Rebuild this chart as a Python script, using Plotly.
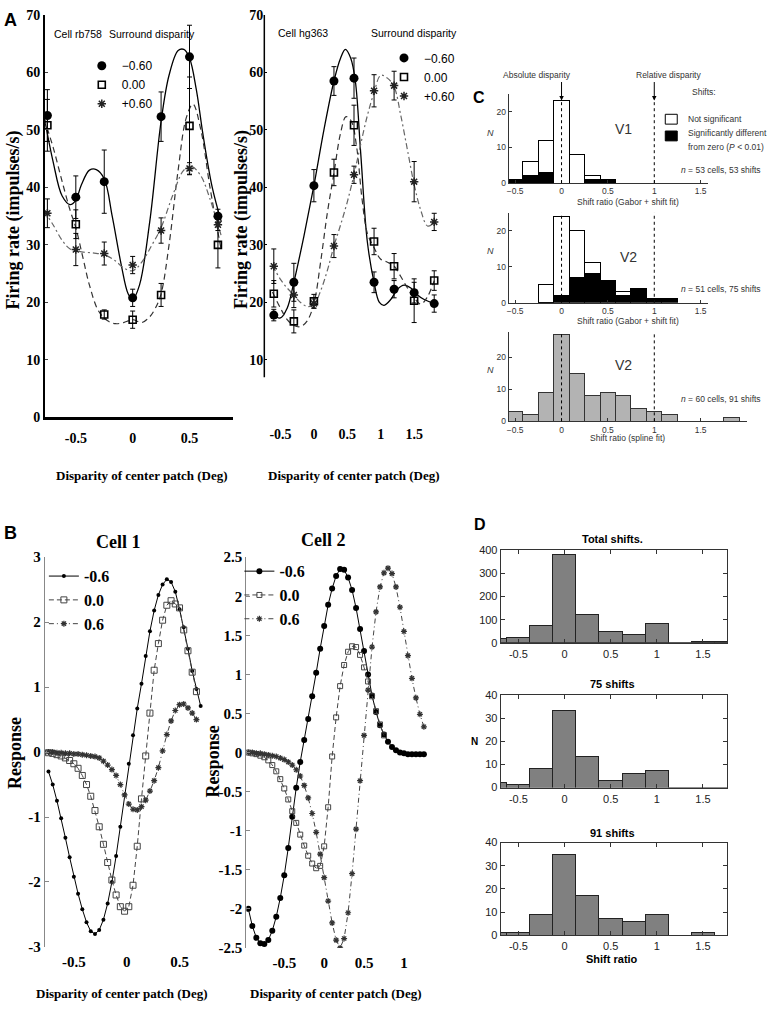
import plotly.graph_objects as go

W, H = 767, 1014
def fx(p): return p / W
def fy(p): return 1 - p / H

SERIF = "Liberation Serif, Times New Roman, serif"
SANS = "Liberation Sans, Arial, sans-serif"

# ---------------- DATA ----------------
# Panel A, left (Cell rb758)
A1_x = [-0.75, -0.5, -0.25, 0.0, 0.25, 0.5, 0.75]
A1_neg = [52.5, 38.3, 41.0, 20.8, 52.3, 62.7, 35.0]
A1_neg_err = [4.5, 3.7, 5.5, 1.5, 4.3, 5.5, 1.2]
A1_zero = [50.8, 33.6, 17.9, 17.0, 21.3, 50.7, 30.0]
A1_zero_err = [4.5, 2.5, 0.8, 1.5, 2.0, 8.5, 4.0]
A1_pos = [35.5, 29.2, 28.5, 26.5, 32.5, 43.3, 33.5]
A1_pos_err = [2.5, 2.8, 2.0, 1.5, 2.2, 1.0, 1.0]
A1_fit_neg_x = [-0.78, -0.7, -0.62, -0.55, -0.5, -0.45, -0.38, -0.32, -0.25, -0.18, -0.1, -0.04, 0.0, 0.06, 0.15, 0.25, 0.32, 0.4, 0.45, 0.5, 0.56, 0.62, 0.7, 0.78]
A1_fit_neg_y = [52.5, 44.5, 38.5, 37.0, 37.8, 40.5, 43.0, 43.1, 41.5, 35.0, 26.5, 21.5, 20.5, 23.0, 34.0, 51.5, 59.5, 63.8, 64.0, 62.5, 57.0, 49.0, 40.0, 34.0]
A1_fit_zero_x = [-0.78, -0.7, -0.62, -0.55, -0.5, -0.44, -0.38, -0.3, -0.22, -0.15, -0.08, 0.0, 0.08, 0.15, 0.2, 0.25, 0.32, 0.4, 0.47, 0.53, 0.6, 0.68, 0.78]
A1_fit_zero_y = [52.0, 47.0, 41.0, 36.0, 33.0, 28.0, 23.0, 18.5, 16.8, 16.3, 16.5, 17.0, 16.5, 17.5, 19.0, 21.5, 30.0, 43.0, 52.0, 54.5, 50.0, 40.0, 29.0]
A1_fit_pos_x = [-0.78, -0.7, -0.62, -0.55, -0.45, -0.35, -0.25, -0.15, -0.08, 0.0, 0.08, 0.17, 0.25, 0.35, 0.45, 0.52, 0.6, 0.68, 0.78]
A1_fit_pos_y = [36.0, 33.5, 30.8, 29.3, 28.8, 28.6, 28.3, 27.2, 26.0, 25.5, 27.0, 30.0, 33.0, 38.5, 43.0, 43.6, 42.0, 38.0, 31.5]

# Panel A, right (Cell hg363)
A2_x = [-0.6, -0.3, 0.0, 0.3, 0.6, 0.9, 1.2, 1.5, 1.8]
A2_neg = [17.8, 23.5, 40.3, 58.5, 59.0, 23.5, 22.3, 21.7, 19.8]
A2_neg_err = [1.0, 3.3, 2.8, 2.5, 3.5, 1.8, 1.5, 1.8, 1.5]
A2_zero = [21.5, 16.7, 20.2, 42.6, 50.8, 30.6, 26.3, 20.3, 23.8]
A2_zero_err = [2.3, 2.0, 1.2, 2.3, 3.5, 2.3, 2.2, 3.8, 1.7]
A2_pos = [26.3, 21.3, 19.8, 29.8, 42.2, 56.8, 57.7, 41.0, 34.0]
A2_pos_err = [3.0, 2.2, 0.8, 2.0, 1.5, 2.8, 2.5, 3.5, 1.5]
A2_fit_neg_x = [-0.62, -0.5, -0.4, -0.3, -0.15, 0.0, 0.15, 0.3, 0.4, 0.47, 0.55, 0.62, 0.7, 0.8, 0.9, 0.98, 1.05, 1.15, 1.25, 1.35, 1.45, 1.55, 1.65, 1.8]
A2_fit_neg_y = [17.8, 17.3, 19.0, 23.5, 31.5, 40.3, 50.0, 58.5, 62.5, 64.0, 62.5, 58.5, 46.0, 30.5, 23.5, 20.0, 19.5, 20.5, 22.3, 23.0, 22.5, 21.3, 20.5, 19.8]
A2_fit_zero_x = [-0.62, -0.5, -0.4, -0.3, -0.2, -0.1, 0.0, 0.1, 0.2, 0.3, 0.4, 0.48, 0.56, 0.64, 0.72, 0.8, 0.9, 1.0, 1.1, 1.2, 1.3, 1.4, 1.5, 1.6, 1.7, 1.8]
A2_fit_zero_y = [21.8, 19.0, 17.0, 16.0, 15.8, 16.8, 19.8, 27.0, 35.5, 42.5, 49.5, 52.3, 51.5, 47.0, 38.0, 32.0, 29.5, 27.5, 27.0, 26.3, 24.5, 22.5, 20.8, 19.7, 21.0, 23.8]
A2_fit_pos_x = [-0.62, -0.5, -0.4, -0.3, -0.2, -0.1, 0.0, 0.1, 0.2, 0.3, 0.4, 0.5, 0.6, 0.7, 0.8, 0.9, 1.0, 1.1, 1.2, 1.3, 1.4, 1.5, 1.6, 1.7, 1.8]
A2_fit_pos_y = [26.5, 24.0, 22.5, 21.3, 20.0, 19.3, 19.6, 22.0, 25.5, 29.8, 33.5, 37.5, 42.2, 47.5, 52.5, 56.5, 59.5, 59.0, 57.5, 52.5, 46.5, 40.5, 36.0, 33.3, 33.8]

# Panel B, Cell 1
B1_x = [-0.74, -0.70, -0.66, -0.62, -0.58, -0.54, -0.50, -0.46, -0.42, -0.38, -0.34, -0.30, -0.26,
        -0.22, -0.18, -0.14, -0.10, -0.06, -0.02, 0.02, 0.06, 0.10, 0.14, 0.18, 0.22, 0.26, 0.30,
        0.34, 0.38, 0.42, 0.46, 0.50, 0.54, 0.58, 0.62, 0.66, 0.70]
B1_neg = [-0.30, -0.50, -0.75, -1.02, -1.32, -1.62, -1.92, -2.18, -2.42, -2.62, -2.76, -2.80, -2.74,
          -2.58, -2.33, -2.00, -1.60, -1.15, -0.66, -0.18, 0.26, 0.67, 1.05, 1.48, 1.86, 2.18, 2.42,
          2.58, 2.66, 2.62, 2.47, 2.20, 1.92, 1.59, 1.25, 0.97, 0.71]
B1_zero = [-0.01, -0.02, -0.04, -0.06, -0.09, -0.13, -0.18, -0.25, -0.36, -0.50, -0.68, -0.90, -1.15,
           -1.42, -1.70, -1.97, -2.20, -2.38, -2.45, -2.38, -2.05, -1.45, -0.72, -0.06, 0.60, 1.26, 1.67,
           2.03, 2.26, 2.33, 2.28, 2.22, 1.88, 1.56, 1.23, 0.93, None]
B1_pos = [0.00, 0.00, -0.01, -0.01, -0.02, -0.02, -0.03, -0.03, -0.04, -0.05, -0.06, -0.07, -0.09,
          -0.14, -0.20, -0.27, -0.36, -0.50, -0.66, -0.80, -0.88, -0.89, -0.84, -0.74, -0.60, -0.44, -0.24,
          0.02, 0.27, 0.48, 0.64, 0.73, 0.74, 0.68, 0.60, 0.50, None]

# Panel B, Cell 2
B2_x = [-0.95, -0.90, -0.85, -0.80, -0.75, -0.70, -0.65, -0.60, -0.55, -0.50, -0.45, -0.40, -0.35,
        -0.30, -0.25, -0.20, -0.15, -0.10, -0.05, 0.00, 0.05, 0.10, 0.15, 0.20, 0.25, 0.30, 0.35,
        0.40, 0.45, 0.50, 0.55, 0.60, 0.65, 0.70, 0.75, 0.80, 0.85, 0.90, 0.95, 1.00, 1.05, 1.10,
        1.15, 1.20, 1.25]
B2_neg = [-2.00, -2.22, -2.37, -2.44, -2.45, -2.40, -2.28, -2.10, -1.86, -1.57, -1.22, -0.82, -0.45,
          -0.12, 0.16, 0.43, 0.72, 1.02, 1.33, 1.62, 1.89, 2.10, 2.26, 2.35, 2.34, 2.24, 2.08,
          1.85, 1.58, 1.30, 1.00, 0.73, 0.52, 0.35, 0.23, 0.14, 0.07, 0.03, 0.00, -0.01, -0.02, -0.02,
          -0.02, -0.02, -0.02]
B2_zero = [0.00, -0.01, -0.02, -0.04, -0.06, -0.10, -0.16, -0.24, -0.34, -0.46, -0.60, -0.75, -0.90,
           -1.05, -1.19, -1.32, -1.42, -1.48, -1.45, -1.20, -0.70, -0.05, 0.45, 0.85, 1.12, 1.29, 1.36,
           1.35, 1.25, 1.09, 0.91, 0.72, 0.53, 0.36, 0.22, None, None, None, None, None, None, None,
           None, None, None]
B2_pos = [0.00, 0.00, -0.01, -0.01, -0.02, -0.03, -0.04, -0.05, -0.07, -0.09, -0.12, -0.16, -0.22,
          -0.30, -0.42, -0.58, -0.78, -1.02, -1.30, -1.60, -1.90, -2.18, -2.40, -2.50, -2.38, -2.05, -1.55,
          -0.98, -0.36, 0.22, 0.80, 1.35, 1.80, 2.12, 2.30, 2.36, 2.29, 2.12, 1.86, 1.55, 1.24, 0.95,
          0.70, 0.49, 0.33]

# Panel C histograms (bin centres in shift-ratio units, bin width 1/6)
C_V1_bins = [-0.5, -0.3333, -0.1667, 0.0, 0.1667, 0.3333, 0.5]
C_V1_sig = [1, 2, 3, 0, 0, 1, 1]
C_V1_ns = [0, 4, 9, 23, 8, 1, 0]
C_V2g_bins = [-0.1667, 0.0, 0.1667, 0.3333, 0.5, 0.6667, 0.8333, 1.0, 1.1667]
C_V2g_sig = [0, 2, 7, 8, 6, 2, 4, 1, 1]
C_V2g_ns = [5, 22, 13, 3, 0, 1, 0, 0, 0]
C_V2s_bins = [-0.5, -0.3333, -0.1667, 0.0, 0.1667, 0.3333, 0.5, 0.6667, 0.8333, 1.0, 1.1667, 1.3333, 1.5, 1.6667, 1.8333]
C_V2s = [3, 2, 9, 27, 15, 8, 9, 8, 4, 3, 2, 0, 0, 0, 1]
C_BIN_W = 1 / 6

# Panel D histograms (bin width 0.25)
D_bins = [-0.75, -0.5, -0.25, 0.0, 0.25, 0.5, 0.75, 1.0, 1.25, 1.5, 1.75]
D_total = [15, 18, 71, 378, 120, 47, 33, 82, 0, 3, 2]
D_75 = [2, 1, 8, 33, 13, 3, 6, 7, 0, 0, 0]
D_91 = [1, 1, 9, 35, 17, 7, 6, 9, 0, 1, 0]
D_BIN_W = 0.25

# ---------------- FIGURE ----------------
fig = go.Figure()

def err(a):
    return dict(type='data', array=a, visible=True, color='black', thickness=1, width=2.5)

DASH_A = "6px,4px"
DASHDOT_A = "6px,3px,2px,3px"

def panel_A(xa, ya, leg, px_, neg, nege, zero, zeroe, pos, pose, fnx, fny, fzx, fzy, fpx, fpy):
    fig.add_trace(go.Scatter(x=fnx, y=fny, mode='lines', line=dict(color='black', width=1.3, shape='spline'),
                             showlegend=False, xaxis=xa, yaxis=ya, hoverinfo='skip'))
    fig.add_trace(go.Scatter(x=fzx, y=fzy, mode='lines', line=dict(color='#333', width=1.2, dash=DASH_A, shape='spline'),
                             showlegend=False, xaxis=xa, yaxis=ya, hoverinfo='skip'))
    fig.add_trace(go.Scatter(x=fpx, y=fpy, mode='lines', line=dict(color='#666', width=1.2, dash=DASHDOT_A, shape='spline'),
                             showlegend=False, xaxis=xa, yaxis=ya, hoverinfo='skip'))
    fig.add_trace(go.Scatter(x=px_, y=neg, mode='markers', name='\u22120.60', error_y=err(nege),
                             marker=dict(symbol='circle', size=9, color='black'), legend=leg, xaxis=xa, yaxis=ya))
    fig.add_trace(go.Scatter(x=px_, y=zero, mode='markers', name='0.00', error_y=err(zeroe),
                             marker=dict(symbol='square-open', size=7, color='black', line=dict(width=1.6)),
                             legend=leg, xaxis=xa, yaxis=ya))
    fig.add_trace(go.Scatter(x=px_, y=pos, mode='markers', name='+0.60', error_y=err(pose),
                             marker=dict(symbol='asterisk-open', size=7, color='#222', line=dict(width=1.5)),
                             legend=leg, xaxis=xa, yaxis=ya))

panel_A('x', 'y', 'legend', A1_x, A1_neg, A1_neg_err, A1_zero, A1_zero_err, A1_pos, A1_pos_err,
        A1_fit_neg_x, A1_fit_neg_y, A1_fit_zero_x, A1_fit_zero_y, A1_fit_pos_x, A1_fit_pos_y)
panel_A('x2', 'y2', 'legend2', A2_x, A2_neg, A2_neg_err, A2_zero, A2_zero_err, A2_pos, A2_pos_err,
        A2_fit_neg_x, A2_fit_neg_y, A2_fit_zero_x, A2_fit_zero_y, A2_fit_pos_x, A2_fit_pos_y)

def panel_B(xa, ya, leg, bx, neg, zero, pos, big):
    fig.add_trace(go.Scatter(x=bx, y=neg, mode='lines+markers', name='-0.6',
                             line=dict(color='black', width=1),
                             marker=dict(symbol='circle', size=6 if big else 4, color='black'),
                             legend=leg, xaxis=xa, yaxis=ya))
    fig.add_trace(go.Scatter(x=bx, y=zero, mode='lines+markers', name='0.0',
                             line=dict(color='#444', width=1, dash='5px,3px'),
                             marker=dict(symbol='square-open', size=5 if big else 6, color='#444', line=dict(width=1)),
                             legend=leg, xaxis=xa, yaxis=ya))
    fig.add_trace(go.Scatter(x=bx, y=pos, mode='lines+markers', name='0.6',
                             line=dict(color='#444', width=1, dash='5px,3px,1px,3px'),
                             marker=dict(symbol='asterisk-open', size=5, color='#333', line=dict(width=1.2)),
                             legend=leg, xaxis=xa, yaxis=ya))

panel_B('x3', 'y3', 'legend3', B1_x, B1_neg, B1_zero, B1_pos, False)
panel_B('x4', 'y4', 'legend4', B2_x, B2_neg, B2_zero, B2_pos, True)

# Panel C
fig.add_trace(go.Bar(x=C_V1_bins, y=C_V1_sig, width=C_BIN_W, showlegend=False, name='Significant',
                     marker=dict(color='black', line=dict(color='black', width=1)), xaxis='x5', yaxis='y5'))
fig.add_trace(go.Bar(x=C_V1_bins, y=C_V1_ns, width=C_BIN_W, showlegend=False, name='Not significant',
                     marker=dict(color='white', line=dict(color='black', width=1)), xaxis='x5', yaxis='y5'))
fig.add_trace(go.Bar(x=C_V2g_bins, y=C_V2g_sig, width=C_BIN_W, showlegend=False,
                     marker=dict(color='black', line=dict(color='black', width=1)), xaxis='x6', yaxis='y6'))
fig.add_trace(go.Bar(x=C_V2g_bins, y=C_V2g_ns, width=C_BIN_W, showlegend=False,
                     marker=dict(color='white', line=dict(color='black', width=1)), xaxis='x6', yaxis='y6'))
fig.add_trace(go.Bar(x=C_V2s_bins, y=C_V2s, width=C_BIN_W, showlegend=False,
                     marker=dict(color='#b3b3b3', line=dict(color='#333', width=1)), xaxis='x7', yaxis='y7'))

# Panel D
for ya, vals in (('y8', D_total), ('y9', D_75), ('y10', D_91)):
    fig.add_trace(go.Bar(x=D_bins, y=vals, width=D_BIN_W, showlegend=False,
                         marker=dict(color='#808080', line=dict(color='#222', width=1)),
                         xaxis='x' + ya[1:], yaxis=ya))

# ---------------- AXES ----------------
def dom_x(a, b): return [fx(a), fx(b)]
def dom_y(top, bot): return [fy(bot), fy(top)]

serif_tick = dict(family=SERIF, size=14, color='black', weight='bold')
serif_tick_b = dict(family=SERIF, size=15, color='black', weight='bold')
c_tick = dict(family=SANS, size=8.5, color='#333')
d_tick = dict(family=SANS, size=11, color='#222')

lay = dict(
    width=W, height=H, margin=dict(l=0, r=0, t=0, b=0), autosize=False,
    paper_bgcolor='white', plot_bgcolor='white', barmode='stack', bargap=0,
    showlegend=True,
)

# A left
lay['xaxis'] = dict(domain=dom_x(43, 232), range=[-0.772, 0.886], anchor='y', showline=True, linewidth=3,
                    linecolor='black', tickvals=[-0.5, 0, 0.5], ticktext=['-0.5', '0', '0.5'], ticks='',
                    tickfont=serif_tick, showgrid=False, zeroline=False, ticklabelstandoff=6)
lay['yaxis'] = dict(domain=dom_y(7, 416), range=[0, 70], anchor='x', showline=True, linewidth=1.5,
                    linecolor='black', tickvals=[0, 10, 20, 30, 40, 50, 60, 70], ticks='inside', ticklen=3,
                    tickfont=serif_tick, showgrid=False, zeroline=False)
# A right
lay['xaxis2'] = dict(domain=dom_x(263, 447), range=[-0.742, 2.004], anchor='y2', showline=False,
                     tickvals=[-0.5, 0, 0.5, 1, 1.5], ticktext=['-0.5', '0', '0.5', '1', '1.5'], ticks='',
                     tickfont=serif_tick, showgrid=False, zeroline=False, ticklabelstandoff=7)
lay['yaxis2'] = dict(domain=dom_y(7, 416), range=[0, 70], anchor='x2', showline=False,
                     tickvals=[10, 20, 30, 40, 50, 60, 70], ticks='inside', ticklen=3, tickcolor='black',
                     tickfont=serif_tick, showgrid=False, zeroline=False)
# B left
lay['xaxis3'] = dict(domain=dom_x(43, 205), range=[-0.774, 0.755], anchor='y3', showline=False,
                     tickvals=[-0.5, 0, 0.5], ticktext=['-0.5', '0', '0.5'], ticks='',
                     tickfont=serif_tick_b, showgrid=False, zeroline=False, ticklabelstandoff=4)
lay['yaxis3'] = dict(domain=dom_y(558, 954), range=[-3, 3], anchor='x3', showline=True, linewidth=1.2,
                     linecolor='#888', tickvals=[-3, -2, -1, 0, 1, 2, 3],
                     ticktext=['-3', '-2', '-1', '0', '1', '2', '3'], ticks='inside', ticklen=4, tickcolor='#888',
                     tickfont=serif_tick_b, showgrid=False, zeroline=False)
# B right
lay['xaxis4'] = dict(domain=dom_x(245, 427), range=[-0.975, 1.3], anchor='y4', showline=False,
                     tickvals=[-0.5, 0, 0.5, 1], ticktext=['-0.5', '0', '0.5', '1'], ticks='',
                     tickfont=serif_tick_b, showgrid=False, zeroline=False, ticklabelstandoff=4)
lay['yaxis4'] = dict(domain=dom_y(558, 955), range=[-2.5, 2.5], anchor='x4', showline=True, linewidth=1.2,
                     linecolor='#888', tickvals=[-2.5, -2, -1.5, -1, -0.5, 0, 0.5, 1, 1.5, 2, 2.5],
                     ticktext=['-2.5', '-2', '-1.5', '-1', '-0.5', '0', '0.5', '1', '1.5', '2', '2.5'],
                     ticks='inside', ticklen=4, tickcolor='#888',
                     tickfont=serif_tick_b, showgrid=False, zeroline=False)

def c_axes(n, ytop, ybot, xmax, ymax):
    lay['xaxis%d' % n] = dict(domain=dom_x(508, 708 if xmax < 1.9 else 747), range=[-0.570, xmax],
                              anchor='y%d' % n, showline=True, linewidth=1, linecolor='#333',
                              tickvals=[-0.5, 0, 0.5, 1, 1.5], ticktext=['\u22120.5', '0', '0.5', '1', '1.5'],
                              ticks='inside', ticklen=3, tickcolor='#333', tickfont=c_tick,
                              showgrid=False, zeroline=False, ticklabelstandoff=0)
    lay['yaxis%d' % n] = dict(domain=dom_y(ytop, ybot), range=[0, ymax], anchor='x%d' % n, showline=True,
                              linewidth=1, linecolor='#333', tickvals=[0, 10, 20], ticks='inside', ticklen=3,
                              tickcolor='#333', tickfont=c_tick, showgrid=False, zeroline=False)

c_axes(5, 87, 178, 1.581, 25)
c_axes(6, 208, 299.5, 1.581, 25)
c_axes(7, 329, 420, 2.0, 28)

def d_axes(n, ytop, ybot, ymax, yt):
    lay['xaxis%d' % n] = dict(domain=dom_x(500, 727), range=[-0.692, 1.762], anchor='y%d' % n, showline=True,
                              mirror='ticks', linewidth=1, linecolor='#333',
                              tickvals=[-0.5, 0, 0.5, 1, 1.5], ticktext=['-0.5', '0', '0.5', '1', '1.5'],
                              ticks='inside', ticklen=4, tickcolor='#333', tickfont=d_tick,
                              showgrid=False, zeroline=False, ticklabelstandoff=1)
    lay['yaxis%d' % n] = dict(domain=dom_y(ytop, ybot), range=[0, ymax], anchor='x%d' % n, showline=True,
                              mirror='ticks', linewidth=1, linecolor='#333', tickvals=yt, ticks='inside',
                              ticklen=4, tickcolor='#333', tickfont=d_tick, showgrid=False, zeroline=False)

d_axes(8, 551, 645, 400, [0, 100, 200, 300, 400])
d_axes(9, 698, 792, 40, [0, 10, 20, 30, 40])
d_axes(10, 848, 942, 40, [0, 10, 20, 30, 40])

# ---------------- LEGENDS ----------------
lay['legend'] = dict(x=fx(80), y=fy(44), xanchor='left', yanchor='top', bgcolor='rgba(0,0,0,0)',
                     font=dict(family=SANS, size=12, color='black'), itemwidth=30, tracegroupgap=0,
                     traceorder='normal')
lay['legend2'] = dict(x=fx(383), y=fy(36), xanchor='left', yanchor='top', bgcolor='rgba(0,0,0,0)',
                      font=dict(family=SANS, size=12, color='black'), itemwidth=30, tracegroupgap=0,
                      traceorder='normal')
lay['legend3'] = dict(x=fx(42), y=fy(560), xanchor='left', yanchor='top', bgcolor='rgba(0,0,0,0)',
                      font=dict(family=SERIF, size=16, color='black', weight='bold'), itemwidth=30,
                      tracegroupgap=0, traceorder='normal')
lay['legend4'] = dict(x=fx(238), y=fy(555), xanchor='left', yanchor='top', bgcolor='rgba(0,0,0,0)',
                      font=dict(family=SERIF, size=16, color='black', weight='bold'), itemwidth=30,
                      tracegroupgap=0, traceorder='normal')

# ---------------- ANNOTATIONS ----------------
def ann(text, x, y, size, family, color='black', bold=False, italic=False, xanchor='center', angle=0):
    return dict(text=text, x=fx(x), y=fy(y), xref='paper', yref='paper', showarrow=False,
                font=dict(size=size, family=family, color=color, weight='bold' if bold else 'normal',
                          style='italic' if italic else 'normal'),
                xanchor=xanchor, yanchor='middle', textangle=angle)

anns = [
    ann('A', 9, 12, 18, SANS, bold=True), ann('B', 9, 533, 18, SANS, bold=True),
    ann('C', 478, 91, 16, SANS, bold=True), ann('D', 479, 525, 16, SANS, bold=True),
    ann('Cell rb758', 50, 26, 10.5, SANS, xanchor='left'),
    ann('Surround disparity', 105, 26, 10.5, SANS, xanchor='left'),
    ann('Cell hg363', 275, 25, 10.5, SANS, xanchor='left'),
    ann('Surround disparity', 458, 25, 10.5, SANS, xanchor='right'),
    ann('Firing rate (impulses/s)', 12, 215, 18, SERIF, bold=True, angle=-90),
    ann('Firing rate (impulses/s)', 240, 215, 18, SERIF, bold=True, angle=-90),
    ann('Disparity of center patch (Deg)', 140, 475, 13, SERIF, bold=True),
    ann('Disparity of center patch (Deg)', 353, 475, 13, SERIF, bold=True),
    ann('Cell 1', 117, 543, 18, SERIF, bold=True), ann('Cell 2', 322, 541, 18, SERIF, bold=True),
    ann('Response', 13, 757, 18, SERIF, bold=True, angle=-90),
    ann('Response', 211, 765, 18, SERIF, bold=True, angle=-90),
    ann('Disparity of center patch (Deg)', 120, 1001, 13, SERIF, bold=True),
    ann('Disparity of center patch (Deg)', 335, 1001, 13, SERIF, bold=True),
    # panel C
    ann('Absolute disparity', 536, 68, 8.5, SANS, color='#333'),
    ann('Relative disparity', 668, 68, 8.5, SANS, color='#333'),
    ann('Shifts:', 690, 85, 8.5, SANS, color='#333', xanchor='left'),
    ann('Not significant', 686, 113, 8.5, SANS, color='#333', xanchor='left'),
    ann('Significantly different', 686, 127, 8.5, SANS, color='#333', xanchor='left'),
    ann('from zero (<i>P</i> < 0.01)', 686, 141, 8.5, SANS, color='#333', xanchor='left'),
    ann('V1', 623, 123, 14, SANS, color='#333'),
    ann('V2', 628, 253, 14, SANS, color='#333'),
    ann('V2', 623, 363, 14, SANS, color='#333'),
    ann('<i>n</i> = 53 cells, 53 shifts', 763, 165, 8.5, SANS, color='#333', xanchor='right'),
    ann('<i>n</i> = 51 cells, 75 shifts', 763, 285, 8.5, SANS, color='#333', xanchor='right'),
    ann('<i>n</i> = 60 cells, 91 shifts', 763, 397, 8.5, SANS, color='#333', xanchor='right'),
    ann('<i>N</i>', 490, 127, 9, SANS, color='#333'),
    ann('<i>N</i>', 490, 247, 9, SANS, color='#333'),
    ann('<i>N</i>', 490, 368, 9, SANS, color='#333'),
    ann('Shift ratio (Gabor + shift fit)', 628, 197, 8.5, SANS, color='#333'),
    ann('Shift ratio (Gabor + shift fit)', 628, 318, 8.5, SANS, color='#333'),
    ann('Shift ratio (spline fit)', 627, 437, 8.5, SANS, color='#333'),
    # panel D
    ann('Total shifts.', 612, 540, 11, SANS, bold=True),
    ann('75 shifts', 612, 687, 11, SANS, bold=True),
    ann('91 shifts', 612, 838, 11, SANS, bold=True),
    ann('N', 474, 745, 10, SANS, bold=True),
    ann('Shift ratio', 612, 966, 11, SANS, bold=True),
]
for xv in (0, 1):
    anns.append(dict(x=xv, xref='x5', y=fy(94), yref='paper', ax=0, ay=-20, axref='pixel', ayref='pixel',
                     showarrow=True, arrowhead=2, arrowsize=0.9, arrowwidth=1, arrowcolor='black', text=''))
lay['annotations'] = anns

shapes = [dict(type='line', xref='x2 domain', yref='y2', x0=0, x1=0, y0=7, y1=70,
               line=dict(color='black', width=1.5))]
for n in (5, 6, 7):
    for xv in (0, 1):
        shapes.append(dict(type='line', xref='x%d' % n, yref='y%d domain' % n, x0=xv, x1=xv, y0=0, y1=1,
                           line=dict(color='black', width=1, dash='dot')))
# legend key boxes for panel C
shapes.append(dict(type='rect', xref='paper', yref='paper', x0=fx(665), x1=fx(677), y0=fy(118), y1=fy(108),
                   line=dict(color='black', width=1), fillcolor='white'))
shapes.append(dict(type='rect', xref='paper', yref='paper', x0=fx(665), x1=fx(677), y0=fy(135), y1=fy(125),
                   line=dict(color='black', width=1), fillcolor='black'))
lay['shapes'] = shapes

fig.update_layout(**lay)
fig.write_html("out.html", config={'displayModeBar': False},
               post_script="document.body.style.margin='0';document.body.style.overflow='hidden';")
